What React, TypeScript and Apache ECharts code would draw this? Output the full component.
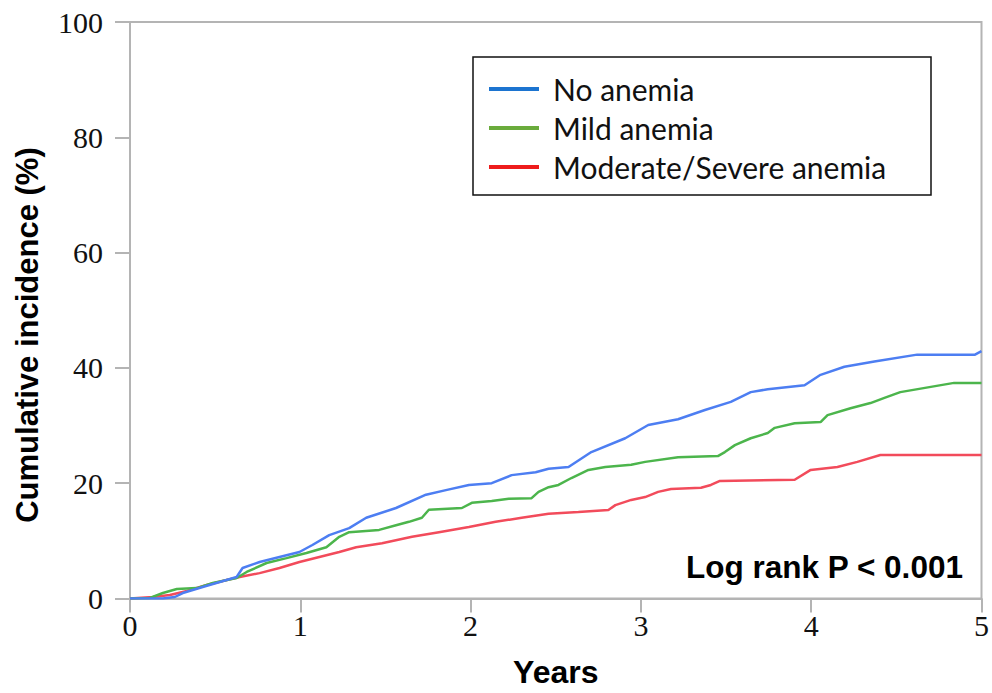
import React, { useEffect, useRef } from "react";
import * as echarts from "echarts";

const xTicks = [0, 1, 2, 3, 4, 5];
const yTicks = [0, 20, 40, 60, 80, 100];

const seriesNames = ["No anemia", "Mild anemia", "Moderate/Severe anemia"];

const noAnemiaYears = [0, 0.193, 0.263, 0.31, 0.427, 0.527, 0.626, 0.661, 0.761, 0.878, 0.995, 1.071, 1.17, 1.287, 1.387, 1.562, 1.738, 1.855, 1.99, 2.124, 2.241, 2.382, 2.458, 2.575, 2.709, 2.908, 3.043, 3.218, 3.376, 3.528, 3.645, 3.745, 3.961, 4.055, 4.195, 4.371, 4.622, 4.962, 5.0];
const noAnemiaPct = [0, 0, 0.26, 0.95, 2.0, 2.86, 3.73, 5.29, 6.33, 7.2, 8.07, 9.28, 11.0, 12.2, 14.0, 15.7, 18.0, 18.8, 19.7, 20.0, 21.4, 21.9, 22.5, 22.8, 25.4, 27.8, 30.1, 31.1, 32.7, 34.1, 35.8, 36.3, 37.0, 38.8, 40.2, 41.1, 42.3, 42.3, 42.9];

const mildYears = [0, 0.117, 0.193, 0.275, 0.392, 0.486, 0.626, 0.685, 0.802, 0.919, 1.036, 1.153, 1.229, 1.287, 1.463, 1.562, 1.638, 1.714, 1.755, 1.949, 2.007, 2.124, 2.224, 2.358, 2.399, 2.458, 2.516, 2.592, 2.692, 2.791, 2.943, 3.025, 3.218, 3.452, 3.493, 3.552, 3.645, 3.745, 3.786, 3.903, 4.055, 4.096, 4.231, 4.348, 4.43, 4.523, 4.839, 5.0];
const mildPct = [0, 0.1, 0.95, 1.65, 1.8, 2.7, 3.56, 4.6, 6.16, 7.0, 7.9, 8.9, 10.7, 11.5, 11.9, 12.7, 13.3, 14.0, 15.4, 15.7, 16.6, 16.9, 17.3, 17.4, 18.5, 19.3, 19.7, 20.9, 22.3, 22.8, 23.2, 23.7, 24.5, 24.7, 25.4, 26.6, 27.8, 28.7, 29.6, 30.4, 30.6, 31.8, 33.0, 33.9, 34.8, 35.8, 37.4, 37.4];

const moderateYears = [0, 0.135, 0.234, 0.334, 0.451, 0.568, 0.644, 0.761, 0.878, 0.995, 1.112, 1.229, 1.328, 1.48, 1.656, 1.814, 1.99, 2.147, 2.3, 2.458, 2.633, 2.809, 2.85, 2.943, 3.025, 3.101, 3.177, 3.353, 3.411, 3.464, 3.903, 3.997, 4.154, 4.271, 4.406, 5.0];
const moderatePct = [0, 0.26, 0.6, 1.3, 2.34, 3.2, 3.73, 4.4, 5.3, 6.33, 7.2, 8.07, 8.9, 9.6, 10.7, 11.5, 12.4, 13.3, 14.0, 14.7, 15.0, 15.35, 16.2, 17.1, 17.6, 18.5, 19.0, 19.2, 19.7, 20.4, 20.6, 22.3, 22.8, 23.7, 24.9, 24.9];

const curveColors = ["#4d7ef2", "#4cb54c", "#f24b5b"];
const legendColors = ["#1c74d0", "#6aab3c", "#ee1c1c"];

const zip = (xs: number[], ys: number[]) => xs.map((x, i) => [x, ys[i]]);

export default function App() {
  const ref = useRef<HTMLDivElement>(null);
  useEffect(() => {
    if (!ref.current) return;
    const chart = echarts.init(ref.current, null, { renderer: "svg" });
    const axisColor = "#b4b4b4";
    const dataSets = [
      zip(noAnemiaYears, noAnemiaPct),
      zip(mildYears, mildPct),
      zip(moderateYears, moderatePct),
    ];
    chart.setOption({
      animation: false,
      backgroundColor: "#ffffff",
      grid: {
        left: 130,
        right: 7.5,
        top: 22,
        bottom: 94.5,
        show: true,
        borderColor: axisColor,
        borderWidth: 2,
        backgroundColor: "transparent",
      },
      legend: {
        show: true,
        orient: "vertical",
        left: 489,
        top: 74,
        padding: 0,
        itemGap: 9,
        itemWidth: 50,
        itemHeight: 4,
        icon: "rect",
        data: seriesNames.map((n, i) => ({
          name: n,
          itemStyle: { color: legendColors[i] },
        })),
        textStyle: {
          fontFamily: "Lato",
          fontSize: 30,
          lineHeight: 30,
          color: "#111",
          padding: [0, 0, 0, 9],
        },
      },
      xAxis: {
        type: "value",
        min: xTicks[0],
        max: xTicks[xTicks.length - 1],
        interval: 1,
        name: "Years",
        nameLocation: "middle",
        nameGap: 57,
        nameTextStyle: {
          fontFamily: "Liberation Sans",
          fontWeight: "bold",
          fontSize: 32,
          color: "#000",
        },
        axisLine: { show: true, lineStyle: { color: axisColor, width: 2 } },
        axisTick: { show: true, length: 14, lineStyle: { color: axisColor, width: 2 } },
        axisLabel: {
          margin: 12,
          fontFamily: "Liberation Serif",
          fontSize: 30,
          color: "#111",
        },
        splitLine: { show: false },
      },
      yAxis: {
        type: "value",
        min: yTicks[0],
        max: yTicks[yTicks.length - 1],
        interval: 20,
        axisLine: { show: true, lineStyle: { color: axisColor, width: 2 } },
        axisTick: { show: true, length: 15, lineStyle: { color: axisColor, width: 2 } },
        axisLabel: {
          margin: 27,
          fontFamily: "Liberation Serif",
          fontSize: 30,
          color: "#111",
        },
        splitLine: { show: false },
      },
      graphic: [
        {
          type: "rect",
          shape: { x: 473, y: 57, width: 458, height: 138 },
          style: { fill: "none", stroke: "#111", lineWidth: 1.5 },
          z: 10,
        },
        {
          type: "text",
          x: 27,
          y: 335,
          rotation: Math.PI / 2,
          style: {
            text: "Cumulative incidence (%)",
            fontFamily: "Liberation Sans",
            fontWeight: "bold",
            fontSize: 31,
            fill: "#000",
            textAlign: "center",
            textVerticalAlign: "middle",
          },
          z: 10,
        },
        {
          type: "text",
          x: 686,
          y: 567,
          style: {
            text: "Log rank P < 0.001",
            fontFamily: "Liberation Sans",
            fontWeight: "bold",
            fontSize: 31.5,
            fill: "#000",
            textAlign: "left",
            textVerticalAlign: "middle",
          },
          z: 10,
        },
      ],
      series: seriesNames.map((n, i) => ({
        name: n,
        type: "line",
        data: dataSets[i],
        showSymbol: false,
        symbol: "none",
        lineStyle: { color: curveColors[i], width: 2.5 },
        itemStyle: { color: curveColors[i] },
        z: 3 - i,
      })),
    });
    return () => chart.dispose();
  }, []);
  return (
    <div
      ref={ref}
      style={{ position: "absolute", left: 0, top: 0, width: 992, height: 693 }}
    />
  );
}
